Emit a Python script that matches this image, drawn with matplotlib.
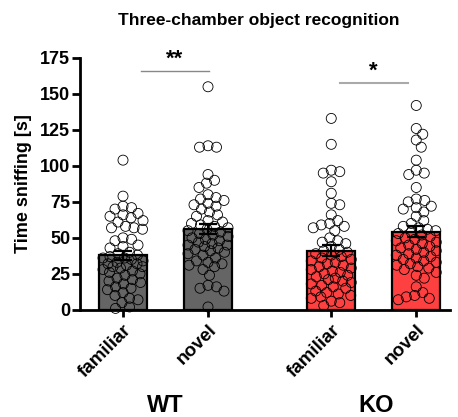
import matplotlib
matplotlib.use("Agg")
import matplotlib.pyplot as plt
import numpy as np

plt.rcParams['font.family'] = ['Liberation Sans', 'DejaVu Sans']
plt.rcParams['font.weight'] = 'bold'

# data (seconds)
wt_familiar = [104, 79, 72, 71, 70, 67, 66, 65, 64, 62, 61, 58, 57, 57, 56, 50, 49, 48, 45, 44,
               43, 40, 39, 38, 37, 36, 36, 35, 34, 33, 32, 32, 31, 30, 30, 29, 28, 27, 26, 25,
               24, 22, 21, 20, 19, 18, 16, 15, 14, 12, 10, 8, 7, 5, 2, 1]
wt_novel = [155, 114, 113, 113, 94, 90, 88, 85, 80, 78, 77, 76, 74, 73, 72, 70, 68, 66, 65, 62,
            61, 60, 59, 58, 57, 56, 55, 54, 53, 52, 51, 50, 49, 48, 47, 46, 45, 45, 44, 43,
            42, 41, 40, 39, 38, 36, 34, 33, 32, 31, 30, 28, 24, 17, 16, 15, 13, 2]
ko_familiar = [133, 115, 97, 96, 95, 89, 81, 74, 73, 66, 62, 60, 59, 58, 57, 55, 50, 48, 47, 46,
               44, 42, 41, 40, 39, 38, 37, 36, 35, 34, 33, 32, 31, 30, 29, 28, 27, 26, 25, 24,
               23, 22, 21, 20, 19, 18, 17, 16, 15, 13, 12, 11, 10, 9, 8, 6, 5, 3]
ko_novel = [142, 126, 122, 118, 113, 104, 97, 95, 94, 85, 77, 76, 75, 72, 71, 70, 68, 65, 62, 60,
            58, 57, 56, 55, 54, 53, 52, 51, 50, 49, 48, 47, 46, 45, 44, 43, 42, 41, 40, 39,
            38, 37, 36, 35, 34, 33, 32, 31, 30, 29, 28, 26, 24, 22, 16, 12, 10, 9, 8, 7]

groups = [wt_familiar, wt_novel, ko_familiar, ko_novel]
tick_labels = ["familiar", "novel", "familiar", "novel"]
genotypes = ["WT", "KO"]
colors = ["#656565", "#656565", "#ff4040", "#ff4040"]
positions = [0, 1, 2.45, 3.45]

fig = plt.figure(figsize=(4.58, 4.17), dpi=100)
ax = fig.add_axes([80 / 458, 0.257, 370 / 458, 0.604])
ax.set_xlim(-0.506, 3.847)
ax.set_ylim(0, 175)

px_x = 85.0   # pixels per x unit
px_y = 1.44   # pixels per y unit


def swarm(vals, dmin=8.5, maxoff=20.0):
    order = np.argsort(vals)[::-1]
    placed = []
    offs = np.zeros(len(vals))
    cands = [0.0]
    for k in np.arange(0.5, maxoff + 0.01, 0.5):
        cands += [k, -k]
    for i in order:
        y = vals[i] * px_y
        best, bestd = 0.0, -1
        for c in cands:
            d = min([np.hypot(c - px, y - py) for px, py in placed] or [99])
            if d >= dmin:
                best = c
                bestd = d
                break
            if d > bestd:
                best, bestd = c, d
        placed.append((best, y))
        offs[i] = best / px_x
    return offs


for pos, vals, col in zip(positions, groups, colors):
    vals = np.array(vals, dtype=float)
    m = vals.mean()
    sem = vals.std(ddof=1) / np.sqrt(len(vals))
    ax.bar(pos, m, width=0.565, color=col, edgecolor="black", linewidth=1.6, zorder=1)
    ax.scatter(pos + swarm(vals), vals, s=52, facecolors="none", edgecolors="black",
               linewidths=0.6, zorder=2, clip_on=False)
    ax.errorbar(pos, m, yerr=sem, color="black", capsize=6.5, elinewidth=1.6,
                capthick=1.6, zorder=3)

ax.spines["top"].set_visible(False)
ax.spines["right"].set_visible(False)
ax.spines["left"].set_linewidth(2)
ax.spines["bottom"].set_linewidth(2)
ax.set_yticks(np.arange(0, 176, 25))
ax.tick_params(axis="y", width=2, length=6, pad=1, labelsize=13)
ax.tick_params(axis="x", width=2, length=5, labelsize=13.5)
ax.set_xticks(positions)
ax.set_xticklabels(tick_labels, rotation=45, ha="right", rotation_mode="anchor")
for t in ax.get_xticklabels() + ax.get_yticklabels():
    t.set_fontweight("bold")
ax.set_ylabel("Time sniffing [s]", fontsize=13, fontweight="bold", labelpad=6)

# significance
ax.plot([0.21, 1.01], [166, 166], color="#888888", lw=1)
ax.text(0.61, 167, "**", ha="center", va="bottom", fontsize=16)
ax.plot([2.55, 3.35], [157.5, 157.5], color="#aaaaaa", lw=1.5)
ax.text(2.95, 158.5, "*", ha="center", va="bottom", fontsize=16)

fig.text(259 / 458, 1 - 20 / 417, "Three-chamber object recognition", ha="center",
         va="center", fontsize=12.5, fontweight="bold")
fig.text(165 / 458, 1 - 405 / 417, genotypes[0], ha="center", va="center", fontsize=17,
         fontweight="bold")
fig.text(376 / 458, 1 - 405 / 417, genotypes[1], ha="center", va="center", fontsize=17,
         fontweight="bold")

fig.savefig("out.png", dpi=100)
